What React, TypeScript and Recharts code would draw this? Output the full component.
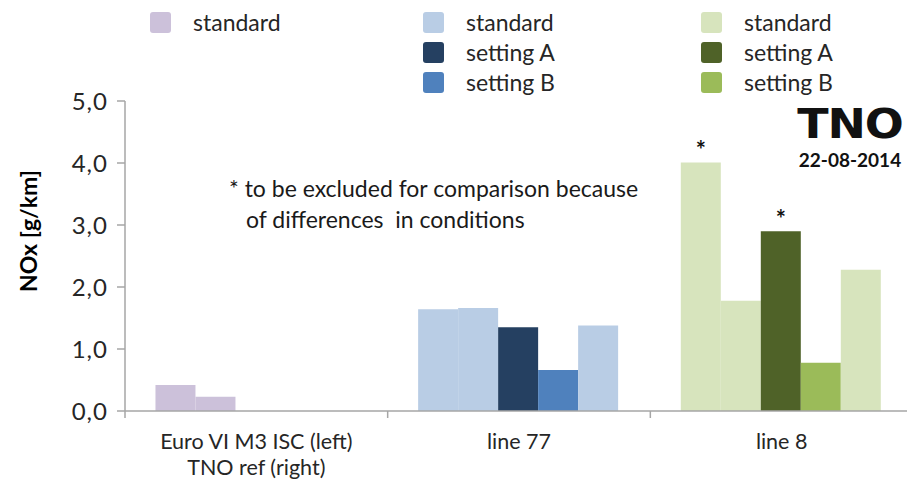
import { BarChart, Bar, XAxis, YAxis, Cell, LabelList } from "recharts"

const categories = ["Euro VI M3 ISC (left)\nTNO ref (right)", "line 77", "line 8"]

// five bar slots per group, values in g/km
const bar1 = [0.42, 1.64, 4.01]
const bar2 = [0.23, 1.66, 1.78]
const bar3 = [null, 1.35, 2.9]
const bar4 = [null, 0.66, 0.78]
const bar5 = [null, 1.38, 2.28]

// "*" marks bars to be excluded
const star1 = ["", "", "*"]
const star3 = ["", "", "*"]

const yTicks = [0, 1, 2, 3, 4, 5]

const PURPLE = "#ccc1da"
const LBLUE = "#b9cde5"
const NAVY = "#254061"
const BLUE = "#4f81bd"
const LGREEN = "#d7e4bd"
const DGREEN = "#4f6228"
const GREEN = "#9bbb59"

// colour of each slot, per group
const slotColors = [
  [PURPLE, PURPLE, PURPLE, PURPLE, PURPLE],
  [LBLUE, LBLUE, NAVY, BLUE, LBLUE],
  [LGREEN, LGREEN, DGREEN, GREEN, LGREEN],
]

const legendCols = [
  { left: 150, items: [{ label: "standard", color: PURPLE }] },
  {
    left: 423,
    items: [
      { label: "standard", color: LBLUE },
      { label: "setting A", color: NAVY },
      { label: "setting B", color: BLUE },
    ],
  },
  {
    left: 701,
    items: [
      { label: "standard", color: LGREEN },
      { label: "setting A", color: DGREEN },
      { label: "setting B", color: GREEN },
    ],
  },
]

const FONT = "Lato, 'Open Sans', sans-serif"

const data = categories.map((name, i) => ({
  name,
  b1: bar1[i],
  b2: bar2[i],
  b3: bar3[i],
  b4: bar4[i],
  b5: bar5[i],
  s1: star1[i],
  s3: star3[i],
}))

const series = ["b1", "b2", "b3", "b4", "b5"]

function XTick(props: any) {
  const { x, y, payload } = props
  const half = payload?.offset ?? 131
  const lines = String(payload.value).split("\n")
  return (
    <g>
      <line x1={x - half} x2={x - half} y1={y} y2={y + 7} stroke="#a6a6a6" strokeWidth={1.5} />
      <text x={x} y={y + 38} textAnchor="middle" fill="#262626" fontSize={21.5} fontFamily={FONT}>
        {lines.map((l, i) => (
          <tspan key={i} x={x} dy={i === 0 ? 0 : 26}>
            {l}
          </tspan>
        ))}
      </text>
    </g>
  )
}

function StarLabel(props: any) {
  const { x, y, width, value } = props
  if (!value) return null
  return (
    <text x={x + width / 2} y={y - 3} textAnchor="middle" fontSize={24} fontWeight={700} fontFamily={FONT} fill="#111">
      {value}
    </text>
  )
}

export default function App() {
  return (
    <div style={{ position: "absolute", left: 0, top: 0, width: 907, height: 486, overflow: "hidden", background: "#fff", fontFamily: FONT }}>
      <BarChart
        width={913}
        height={486}
        data={data}
        margin={{ top: 101, right: 0, left: 0, bottom: 0 }}
        barCategoryGap="11.6%"
        barGap={0}
      >
        <YAxis
          width={125}
          domain={[0, 5]}
          ticks={yTicks}
          tickSize={8}
          tickMargin={9}
          tickFormatter={(v: number) => v.toFixed(1).replace(".", ",")}
          tick={{ fill: "#262626", fontSize: 24, fontFamily: FONT, letterSpacing: 1 }}
          axisLine={{ stroke: "#a6a6a6", strokeWidth: 1.5 }}
          tickLine={{ stroke: "#a6a6a6", strokeWidth: 1.5 }}
          label={{
            content: () => (
              <text
                x={28}
                y={231}
                transform="rotate(-90 28 231)"
                textAnchor="middle"
                dominantBaseline="central"
                fontSize={23}
                fontWeight={700}
                fontFamily={FONT}
                fill="#000"
              >
                NOx [g/km]
              </text>
            ),
          }}
        />
        <XAxis
          dataKey="name"
          height={75}
          tickSize={0}
          tickMargin={0}
          tickLine={false}
          interval={0}
          axisLine={{ stroke: "#a6a6a6", strokeWidth: 1.5 }}
          tick={<XTick />}
        />
        {series.map((key, si) => (
          <Bar key={key} dataKey={key} isAnimationActive={false}>
            {data.map((_, ci) => (
              <Cell key={ci} fill={slotColors[ci][si]} />
            ))}
            {key === "b1" && <LabelList dataKey="s1" content={<StarLabel />} />}
            {key === "b3" && <LabelList dataKey="s3" content={<StarLabel />} />}
          </Bar>
        ))}
      </BarChart>

      {legendCols.map((col, ci) =>
        col.items.map((it, ii) => (
          <div key={`${ci}-${ii}`} style={{ position: "absolute", left: col.left, top: 12 + ii * 30, height: 21, display: "flex", alignItems: "center" }}>
            <div style={{ width: 21, height: 21, background: it.color, borderRadius: 3 }} />
            <span style={{ marginLeft: 22, fontSize: 23, color: "#262626", lineHeight: "21px" }}>{it.label}</span>
          </div>
        ))
      )}

      <div style={{ position: "absolute", left: 229, top: 173, fontSize: 23, color: "#1a1a1a", lineHeight: "31px", whiteSpace: "pre" }}>
        <div>* to be excluded for comparison because</div>
        <div style={{ paddingLeft: 17 }}>{"of differences  in conditions"}</div>
      </div>

      <div style={{ position: "absolute", left: 796, top: 104, width: 108, textAlign: "center", color: "#111" }}>
        <div style={{ fontSize: 41, fontWeight: 700, fontFamily: "'DejaVu Sans', sans-serif", letterSpacing: -1, lineHeight: "40px", height: 40, transform: "scaleX(1.12)" }}>TNO</div>
        <div style={{ fontSize: 19, fontWeight: 700, lineHeight: "18px", marginTop: 7 }}>22-08-2014</div>
      </div>
    </div>
  )
}
